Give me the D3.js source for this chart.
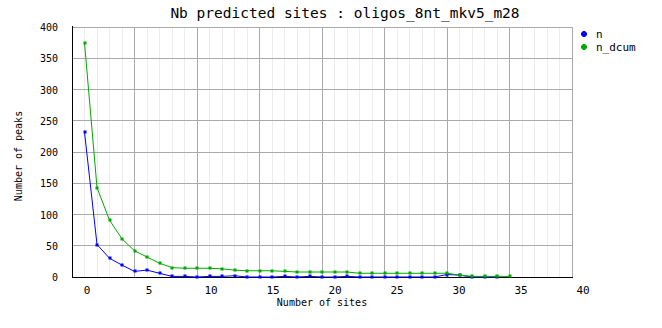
<!DOCTYPE html>
<html>
<head>
<meta charset="utf-8">
<script src="https://cdn.jsdelivr.net/npm/d3@7.9.0/dist/d3.min.js"></script>
<style>
  body { margin: 0; background: #fff; }
  svg { display: block; font-family: "DejaVu Sans Mono", monospace; }
</style>
</head>
<body>
<div id="chart"></div>
<script>
const title = 'Nb predicted sites : oligos_8nt_mkv5_m28';
const xLabel = 'Number of sites';
const yLabel = 'Number of peaks';

const xTicks = [0, 5, 10, 15, 20, 25, 30, 35, 40];
const yTicks = [0, 50, 100, 150, 200, 250, 300, 350, 400];

// n : number of peaks with exactly x sites (x = 0..33)
const nValues = [232, 52, 30, 19, 9, 11, 6, 1, 1, 0, 1, 1, 2, 0, 0, 0, 1, 0, 1, 0,
                 0, 1, 0, 0, 0, 0, 0, 0, 0, 4, 3, 0, 0, 0];
// n_dcum : number of peaks with at least x sites (x = 0..34)
const dcumValues = [375, 143, 91, 61, 42, 32, 22, 15, 14, 14, 14, 13, 11, 10, 10, 10, 9, 8, 8, 8,
                    8, 8, 6, 6, 6, 6, 6, 6, 6, 6, 3, 1, 1, 1, 1];

const series = [
  { name: 'n', color: '#0000ff', values: nValues },
  { name: 'n_dcum', color: '#00a800', values: dcumValues }
];

const width = 662, height = 328;
const margin = { top: 27, right: 90, bottom: 52, left: 72 };

const svg = d3.select('#chart').append('svg')
  .attr('width', width)
  .attr('height', height);

const x = d3.scaleLinear()
  .domain([-1, 39])
  .range([margin.left, width - margin.right]);
const y = d3.scaleLinear()
  .domain([0, 400])
  .range([height - margin.bottom + 1, margin.top]);
// the tick labels sit on their own, slightly tighter spacing
const xLab = d3.scaleLinear()
  .domain([0, 40])
  .range([87, 583]);

// minor vertical grid, every unit
svg.append('g')
  .selectAll('line')
  .data(d3.range(0, 39))
  .join('line')
    .attr('x1', d => x(d)).attr('x2', d => x(d))
    .attr('y1', y(400)).attr('y2', y(0))
    .attr('stroke', '#ececec')
    .attr('shape-rendering', 'crispEdges');

// major vertical grid, every 5 units starting at the left edge
svg.append('g')
  .selectAll('line')
  .data(d3.range(4, 39, 5))
  .join('line')
    .attr('x1', d => x(d)).attr('x2', d => x(d))
    .attr('y1', y(400)).attr('y2', y(0))
    .attr('stroke', '#aaaaaa')
    .attr('shape-rendering', 'crispEdges');

// horizontal grid
svg.append('g')
  .selectAll('line')
  .data(yTicks.slice(1))
  .join('line')
    .attr('x1', x(-1)).attr('x2', x(39))
    .attr('y1', d => y(d)).attr('y2', d => y(d))
    .attr('stroke', '#aaaaaa')
    .attr('shape-rendering', 'crispEdges');

// frame: gray right edge, black axes
svg.append('line')
  .attr('x1', x(39)).attr('x2', x(39))
  .attr('y1', y(400)).attr('y2', y(0))
  .attr('stroke', '#aaaaaa')
  .attr('shape-rendering', 'crispEdges');
svg.append('line')
  .attr('x1', x(-1)).attr('x2', x(-1))
  .attr('y1', y(400) - 1).attr('y2', y(0))
  .attr('stroke', '#000')
  .attr('shape-rendering', 'crispEdges');
svg.append('line')
  .attr('x1', x(-1)).attr('x2', x(39) + 1)
  .attr('y1', y(0)).attr('y2', y(0))
  .attr('stroke', '#000')
  .attr('shape-rendering', 'crispEdges');

// tick labels
svg.append('g')
  .selectAll('text')
  .data(xTicks)
  .join('text')
    .attr('x', d => xLab(d))
    .attr('y', y(0) + 17)
    .attr('text-anchor', 'middle')
    .attr('font-size', 11)
    .text(d => d);

svg.append('g')
  .selectAll('text')
  .data(yTicks)
  .join('text')
    .attr('x', margin.left - 14)
    .attr('y', d => y(d) + 4)
    .attr('text-anchor', 'end')
    .attr('font-size', 10)
    .text(d => d);

// titles
svg.append('text')
  .attr('x', 345).attr('y', 18)
  .attr('text-anchor', 'middle')
  .attr('font-size', 14.5)
  .text(title);

svg.append('text')
  .attr('x', 322).attr('y', 306)
  .attr('text-anchor', 'middle')
  .attr('font-size', 10)
  .text(xLabel);

svg.append('text')
  .attr('transform', 'translate(22,156) rotate(-90)')
  .attr('text-anchor', 'middle')
  .attr('font-size', 10)
  .text(yLabel);

// series
const line = d3.line()
  .x((d, i) => x(i))
  .y(d => y(d));

series.forEach(s => {
  const g = svg.append('g');
  g.append('path')
    .datum(s.values)
    .attr('d', line)
    .attr('fill', 'none')
    .attr('stroke', s.color)
    .attr('stroke-width', 1);
  g.selectAll('rect')
    .data(s.values)
    .join('rect')
      .attr('x', (d, i) => Math.round(x(i)) - 1.5)
      .attr('y', d => Math.round(y(d)) - 1.5)
      .attr('width', 3)
      .attr('height', 3)
      .attr('fill', s.color);
});

// legend
const legend = svg.append('g')
  .selectAll('g')
  .data(series)
  .join('g')
    .attr('transform', (d, i) => `translate(584,${34 + i * 13})`);
legend.append('path')
  .attr('d', 'M-1,-3L1,-3L3,-1L3,1L1,3L-1,3L-3,1L-3,-1Z')
  .attr('fill', d => d.color);
legend.append('text')
  .attr('x', 12).attr('y', 4)
  .attr('font-size', 11)
  .text(d => d.name);
</script>
</body>
</html>
